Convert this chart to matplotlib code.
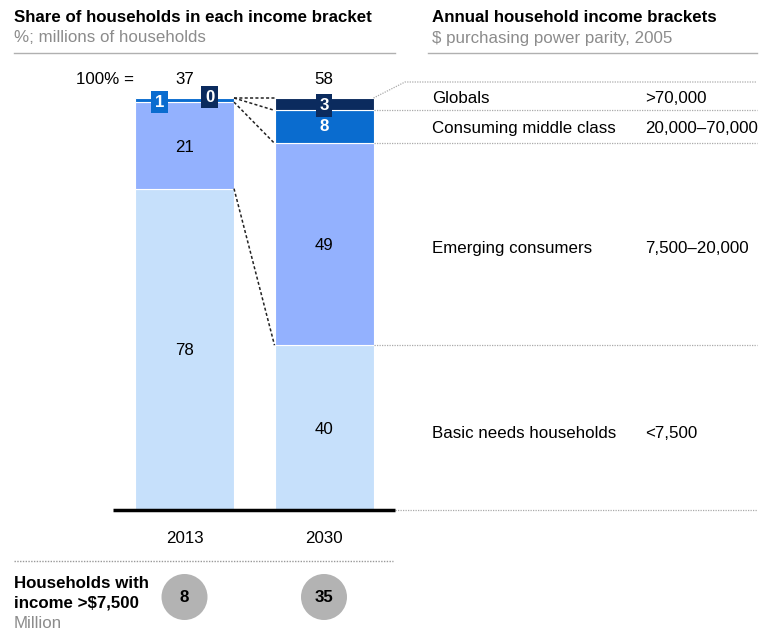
import matplotlib
matplotlib.use("Agg")
import matplotlib.pyplot as plt
from matplotlib.patches import Circle
import numpy as np

plt.rcParams['font.family'] = ['Liberation Sans', 'DejaVu Sans']

# ---- data ----
years = ["2013", "2030"]
totals = [37, 58]                      # millions of households (100% =)
segments = ["Basic needs households", "Emerging consumers",
            "Consuming middle class", "Globals"]
brackets = ["<7,500", "7,500\u201320,000", "20,000\u201370,000", ">70,000"]
shares_2013 = [78, 21, 1, 0]
shares_2030 = [40, 49, 8, 3]
above_7500 = [8, 35]                   # millions

colors = ["#c6e0fb", "#93b1fe", "#0a6ccf", "#0b2b5e"]
FS = 12.2

W, H = 760, 633
fig = plt.figure(figsize=(W / 100, H / 100), dpi=100)

# overlay axes in pixel coordinates
ov = fig.add_axes([0, 0, 1, 1])
ov.set_xlim(0, W)
ov.set_ylim(H, 0)
ov.axis("off")

# main bar axes
px_left, px_right, px_top, px_bot = 113, 393, 98, 510
ax = fig.add_axes([px_left / W, (H - px_bot) / H, (px_right - px_left) / W, (px_bot - px_top) / H])
spacing = 139.5
x0 = -(184.5 - px_left) / spacing
x1 = 1 + (px_right - 324) / spacing
ax.set_xlim(x0, x1)
ax.set_ylim(0, 100)
ax.axis("off")
bw = 99 / spacing

def xpx(px):
    return x0 + (px - px_left) / spacing

data = [shares_2013, shares_2030]
xs = np.arange(len(years))
for i, sh in enumerate(data):
    bottom = 0
    for j, v in enumerate(sh):
        if v > 0:
            ax.bar(xs[i], v, bottom=bottom, width=bw, color=colors[j],
                   edgecolor="white", linewidth=0.8)
        bottom += v

# segment labels
big_txt = dict(ha="center", va="center", fontsize=FS, color="black")
for i, sh in enumerate(data):
    cum = np.cumsum([0] + sh)
    for j, v in enumerate(sh):
        mid = (cum[j] + cum[j + 1]) / 2
        if v >= 15:
            ax.text(xs[i], mid - 0.4, str(v), **big_txt)

# small labels with boxes
box = lambda c: dict(boxstyle="square,pad=0.22", fc=c, ec="none")
ax.text(xs[0] - 0.18, 99.0, str(shares_2013[2]), ha="center", va="center",
        fontsize=FS, fontweight="bold", color="white", bbox=box(colors[2]))
ax.text(xs[0] + 0.18, 100.2, str(shares_2013[3]), ha="center", va="center",
        fontsize=FS, fontweight="bold", color="white", bbox=box(colors[3]))
cum30 = np.cumsum([0] + shares_2030)
ax.text(xs[1], (cum30[3] + cum30[4]) / 2 - 0.3, str(shares_2030[3]), ha="center", va="center",
        fontsize=FS, fontweight="bold", color="white", bbox=box(colors[3]))
ax.text(xs[1], (cum30[2] + cum30[3]) / 2, str(shares_2030[2]), ha="center", va="center",
        fontsize=FS, fontweight="bold", color="white")

# totals
for i, t in enumerate(totals):
    ax.text(xs[i], 104.5, str(t), ha="center", va="center", fontsize=FS, clip_on=False)
ax.text(xpx(134), 104.5, "100% =", ha="right", va="center", fontsize=FS, clip_on=False)

# connectors between bars
cum13 = np.cumsum([0] + shares_2013)
for k in [1, 2, 3, 4]:
    ax.plot([xs[0] + bw / 2, xs[1] - bw / 2], [cum13[k], cum30[k]],
            color="#222222", lw=1.1, ls=(0, (2, 1.5)), clip_on=False)

# right side dotted guide lines
dot = dict(color="#aaaaaa", lw=0.9, ls=(0, (1, 1)), clip_on=False)
top_ext = 100 + (98 - 82) / 4.12
ax.plot([xs[1] + bw / 2, xpx(405), xpx(757)], [100, top_ext, top_ext], **dot)
for k in [1, 2, 3]:
    ax.plot([xs[1] + bw / 2, xpx(757)], [cum30[k], cum30[k]], **dot)
ax.plot([xpx(395), xpx(757)], [0, 0], **dot)
ax.plot([x0, xpx(395)], [0, 0], color="black", lw=2.5, clip_on=False, solid_capstyle="butt")

# right side labels
offs = [-1.5, -1.0, -0.3, -0.5]
for j in range(4):
    lo = cum30[j]
    hi = cum30[j + 1] if j < 3 else top_ext
    mid = (lo + hi) / 2 + offs[j]
    ax.text(xpx(432), mid, segments[j], ha="left", va="center", fontsize=FS, clip_on=False)
    ax.text(xpx(645), mid, brackets[j], ha="left", va="center", fontsize=FS, clip_on=False)

# years
for i, y in enumerate(years):
    ax.text(xs[i], -7, y, ha="center", va="center", fontsize=FS, clip_on=False)

# headers
ov.text(14, 17, "Share of households in each income bracket", fontsize=12.2,
        fontweight="bold", ha="left", va="center")
ov.text(14, 38, "%; millions of households", fontsize=FS, color="#8c8c8c",
        ha="left", va="center")
ov.plot([14, 395], [53, 53], color="#b0b0b0", lw=1)
ov.text(432, 17, "Annual household income brackets", fontsize=12.2,
        fontweight="bold", ha="left", va="center")
ov.text(432, 38, "$ purchasing power parity, 2005", fontsize=FS, color="#8c8c8c",
        ha="left", va="center")
ov.plot([428, 757], [53, 53], color="#b0b0b0", lw=1)

# bottom section
ov.plot([14, 393], [561, 561], color="#999999", lw=1, ls=(0, (1, 1)))
ov.text(14, 583, "Households with", fontsize=12.2, fontweight="bold", ha="left", va="center")
ov.text(14, 603, "income >$7,500", fontsize=12.2, fontweight="bold", ha="left", va="center")
ov.text(14, 623, "Million", fontsize=FS, color="#8c8c8c", ha="left", va="center")
for i, v in enumerate(above_7500):
    cx = 184.5 + i * spacing
    ov.add_patch(Circle((cx, 597), 23, color="#b3b3b3", ec="none"))
    ov.text(cx, 597, str(v), ha="center", va="center", fontsize=FS, fontweight="bold")

fig.savefig("out.png", dpi=100)
